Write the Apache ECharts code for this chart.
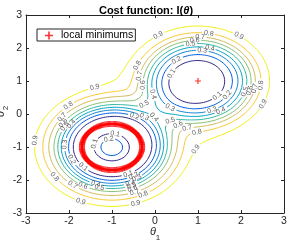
<!DOCTYPE html>
<html><head><meta charset="utf-8">
<script src="https://cdn.jsdelivr.net/npm/echarts@6/dist/echarts.min.js"></script>
<style>html,body{margin:0;padding:0;background:#fff}#c{width:292px;height:242px}</style>
</head><body><div id="c"></div>
<script>
// ---------------- data ----------------
const levels = [0.1, 0.2, 0.3, 0.4, 0.5, 0.6, 0.7, 0.8, 0.9];
const tickValues = [-3, -2, -1, 0, 1, 2, 3];
// radial profile of the well around the global minimum (distance -> cost)
const wellACenter = [1, 1];
const wellARadius = [0, 0.62, 0.80, 0.93, 1.035, 1.135, 1.235, 1.335, 1.465, 1.665, 2.0, 2.5, 3.2];
const wellAValue  = [0, 0.1, 0.2, 0.3, 0.4, 0.5, 0.6, 0.7, 0.8, 0.9, 0.96, 0.99, 1];
// radial profile of the ring-shaped well around (-1,-1)
const wellBCenter = [-1, -1];
const wellBRadius = [0, 0.26, 0.42, 0.70, 0.90, 1.01, 1.10, 1.18, 1.26, 1.35, 1.47, 1.61, 1.80, 2.15, 2.7, 3.4];
const wellBValue  = [0.3, 0.2, 0.1, 0, 0.1, 0.2, 0.3, 0.4, 0.5, 0.6, 0.7, 0.8, 0.9, 0.96, 0.99, 1];
// local minimums
const ringCenter = [-1, -1];
const ringRadius = 0.7;
const ringCount = 160;
const globalMinimum = [1, 1];
// contour label positions [level, x, y]
const contourLabels = [
  [0.9, 0.04, 2.48], [0.8, 1.26, 2.48], [0.9, 1.98, 2.45], [0.7, 1.05, 2.36], [0.6, 0.93, 2.22],
  [0.5, 0.83, 2.11], [0.4, 1.28, 1.96], [0.3, 1.09, 1.89], [0.2, 0.52, 1.61], [0.1, 0.43, 1.18],
  [0.8, -0.43, 1.48], [0.7, -0.43, 1.18], [0.6, -0.39, 0.88], [0.4, 0.02, 0.63], [0.5, -0.26, 0.32],
  [0.3, 0.40, 0.32], [0.1, 1.43, 0.58], [0.2, 1.63, 0.63], [0.3, 1.30, 0.22], [0.4, 1.51, 0.17],
  [0.5, 2.12, 0.66], [0.6, 2.27, 0.68], [0.7, 2.38, 0.75], [0.8, 2.50, 0.88], [0.9, 2.56, 0.27],
  [0.9, -1.40, 0.81], [0.8, -2.02, 0.27], [0.7, -2.17, -0.08], [0.6, -2.17, -0.23], [0.5, -2.13, -0.33],
  [0.4, -1.94, -0.30], [0.1, -0.91, -0.38], [0.2, -0.54, -0.30], [0.3, -0.33, -0.26], [0.4, -0.04, -0.13],
  [0.5, 0.35, -0.16], [0.6, 0.55, -0.35], [0.7, 0.75, -0.46], [0.8, 0.97, -0.58], [0.9, 0.93, -1.04],
  [0.3, -2.07, -0.94], [0.2, -1.94, -1.39], [0.9, -2.81, -0.79], [0.1, -1.74, -1.70], [0.8, -2.33, -1.90],
  [0.7, -1.91, -2.15], [0.6, -1.70, -2.25], [0.4, -1.36, -2.08], [0.5, -1.30, -2.25], [0.9, -1.74, -2.66],
  [0.1, -0.62, -1.80], [0.2, -0.50, -1.87], [0.3, -0.43, -1.95], [0.4, -0.58, -2.13], [0.5, -0.54, -2.20],
  [0.6, -0.52, -2.28], [0.7, -0.47, -2.35], [0.8, -0.27, -2.45], [0.9, -0.43, -2.76],
  [0.1, -1.32, -0.94], [0.2, -1.06, -0.86]
];

// ---------------- styles ----------------
const levelColors = ['#352a87', '#0562e0', '#1484d4', '#06a5c7', '#33b8a1', '#8bbf75', '#d2bb58', '#fdc931', '#f0f01a'];
const FONT = '"Liberation Sans", Arial, Helvetica, sans-serif';
const GRID = {left: 26, right: 8, top: 15, bottom: 29};
const W = 292, H = 242;
const SX = (W - GRID.left - GRID.right) / 6, SY = (H - GRID.top - GRID.bottom) / 6;

// ---------------- field from the read profiles ----------------
function makeProfile(xs, ys) {
  const n = xs.length, h = [], d = [], m = new Array(n).fill(0);
  for (let k = 0; k < n - 1; k++) { h[k] = xs[k + 1] - xs[k]; d[k] = (ys[k + 1] - ys[k]) / h[k]; }
  for (let k = 1; k < n - 1; k++) {
    if (d[k - 1] * d[k] <= 0) m[k] = 0;
    else { const w1 = 2 * h[k] + h[k - 1], w2 = h[k] + 2 * h[k - 1]; m[k] = (w1 + w2) / (w1 / d[k - 1] + w2 / d[k]); }
  }
  return function (r) {
    if (r >= xs[n - 1]) return ys[n - 1];
    let k = 0; while (k < n - 2 && r > xs[k + 1]) k++;
    const t = (r - xs[k]) / h[k], t2 = t * t, t3 = t2 * t;
    return (2 * t3 - 3 * t2 + 1) * ys[k] + (t3 - 2 * t2 + t) * h[k] * m[k] + (-2 * t3 + 3 * t2) * ys[k + 1] + (t3 - t2) * h[k] * m[k + 1];
  };
}
const gA = makeProfile(wellARadius, wellAValue);
const gB = makeProfile(wellBRadius, wellBValue);
function cost(x, y) {
  const rA = Math.hypot(x - wellACenter[0], y - wellACenter[1]);
  const rB = Math.hypot(x - wellBCenter[0], y - wellBCenter[1]);
  return gA(rA) + gB(rB) - 1;
}
const N = 241, X0 = -3, STEP = 6 / (N - 1);
const F = new Float64Array(N * N);
for (let j = 0; j < N; j++) for (let i = 0; i < N; i++) F[j * N + i] = cost(X0 + i * STEP, X0 + j * STEP);

// ---------------- marching squares ----------------
function contour(L) {
  const segs = [];
  const hk = (i, j) => j * N + i, vk = (i, j) => N * N + j * N + i;
  const px = (i, j, i2, j2) => {
    const a = F[j * N + i], b = F[j2 * N + i2], t = (L - a) / (b - a);
    return [X0 + (i + (i2 - i) * t) * STEP, X0 + (j + (j2 - j) * t) * STEP];
  };
  for (let j = 0; j < N - 1; j++) for (let i = 0; i < N - 1; i++) {
    const v00 = F[j * N + i] >= L, v10 = F[j * N + i + 1] >= L, v11 = F[(j + 1) * N + i + 1] >= L, v01 = F[(j + 1) * N + i] >= L;
    if (v00 === v10 && v10 === v11 && v11 === v01) continue;
    const E = {};
    if (v00 !== v10) E.b = {k: hk(i, j), p: px(i, j, i + 1, j)};
    if (v10 !== v11) E.r = {k: vk(i + 1, j), p: px(i + 1, j, i + 1, j + 1)};
    if (v01 !== v11) E.t = {k: hk(i, j + 1), p: px(i, j + 1, i + 1, j + 1)};
    if (v00 !== v01) E.l = {k: vk(i, j), p: px(i, j, i, j + 1)};
    const keys = Object.keys(E);
    if (keys.length === 2) segs.push([E[keys[0]], E[keys[1]]]);
    else if (keys.length === 4) {
      const c = (F[j * N + i] + F[j * N + i + 1] + F[(j + 1) * N + i + 1] + F[(j + 1) * N + i]) / 4 >= L;
      if (v00 !== c) segs.push([E.l, E.b]);
      if (v10 !== c) segs.push([E.b, E.r]);
      if (v11 !== c) segs.push([E.r, E.t]);
      if (v01 !== c) segs.push([E.t, E.l]);
    }
  }
  const map = new Map();
  segs.forEach((s, idx) => s.forEach(e => { if (!map.has(e.k)) map.set(e.k, []); map.get(e.k).push(idx); }));
  const used = new Uint8Array(segs.length), lines = [];
  const walk = (k, out) => {
    while (true) {
      const c = (map.get(k) || []).find(q => !used[q]);
      if (c === undefined) return k;
      used[c] = 1;
      const s = segs[c];
      if (s[0].k === k) { out.push(s[1].p); k = s[1].k; } else { out.push(s[0].p); k = s[0].k; }
    }
  };
  for (let q = 0; q < segs.length; q++) {
    if (used[q]) continue;
    used[q] = 1;
    const fwd = [segs[q][0].p, segs[q][1].p];
    const endK = walk(segs[q][1].k, fwd);
    const closed = endK === segs[q][0].k;
    let pts = fwd;
    if (!closed) { const back = []; walk(segs[q][0].k, back); pts = back.reverse().concat(fwd); }
    if (closed) pts.pop();
    lines.push({pts, closed, keep: new Array(pts.length).fill(true)});
  }
  return lines;
}

const contourSets = levels.map(L => contour(L));

// ---------------- labels: snap to contour, rotate along it, cut a gap ----------------
const labelItems = [];
const pdist = (a, b) => Math.hypot((a[0] - b[0]) * SX, (a[1] - b[1]) * SY);
contourLabels.forEach(([lv, x, y]) => {
  const li = levels.findIndex(v => Math.abs(v - lv) < 1e-9);
  let best = null;
  contourSets[li].forEach(line => line.pts.forEach((p, idx) => {
    const d = pdist(p, [x, y]);
    if (!best || d < best.d) best = {d, line, idx};
  }));
  if (!best) return;
  const {line, idx} = best, n = line.pts.length;
  const at = k => line.closed ? line.pts[((k % n) + n) % n] : line.pts[Math.max(0, Math.min(n - 1, k))];
  const c = line.pts[idx];
  const p1 = at(idx - 3), p2 = at(idx + 3);
  let ang = Math.atan2((p2[1] - p1[1]) * SY, (p2[0] - p1[0]) * SX) * 180 / Math.PI;
  if (ang > 90) ang -= 180; if (ang <= -90) ang += 180;
  const gap = 6;
  for (const dir of [1, -1]) {
    for (let s = 0; s < n; s++) {
      const k = idx + dir * s;
      if (!line.closed && (k < 0 || k >= n)) break;
      const kk = ((k % n) + n) % n;
      if (pdist(line.pts[kk], c) < gap) line.keep[kk] = false; else break;
    }
  }
  labelItems.push({value: [c[0], c[1]], txt: String(lv), label: {rotate: ang}});
});

const contourSeries = [];
contourSets.forEach((lines, li) => {
  lines.forEach(line => {
    const {pts, keep, closed} = line, n = pts.length;
    const runs = [];
    if (closed) {
      const s0 = keep.findIndex(v => !v);
      if (s0 < 0) { runs.push(pts.concat([pts[0]])); }
      else {
        let cur = null;
        for (let s = 1; s <= n; s++) {
          const k = (s0 + s) % n;
          if (keep[k]) { if (!cur) cur = []; cur.push(pts[k]); }
          else if (cur) { runs.push(cur); cur = null; }
        }
        if (cur) runs.push(cur);
      }
    } else {
      let cur = null;
      for (let k = 0; k < n; k++) {
        if (keep[k]) { if (!cur) cur = []; cur.push(pts[k]); }
        else if (cur) { runs.push(cur); cur = null; }
      }
      if (cur) runs.push(cur);
    }
    runs.filter(r => r.length > 1).forEach(r => contourSeries.push({
      type: 'line', data: r, showSymbol: false, symbol: 'none', silent: true, z: 2,
      lineStyle: {color: levelColors[li], width: 1}, animation: false, clip: true
    }));
  });
});

// ---------------- minimum markers ----------------
const minimaPoints = [];
for (let k = 0; k < ringCount; k++) {
  const a = 2 * Math.PI * k / ringCount;
  minimaPoints.push([ringCenter[0] + ringRadius * Math.cos(a), ringCenter[1] + ringRadius * Math.sin(a)]);
}
minimaPoints.push(globalMinimum);
const plusPath = 'path://M4,0H6V4H10V6H6V10H4V6H0V4H4Z';

const axisCommon = {
  type: 'value', min: tickValues[0], max: tickValues[tickValues.length - 1], interval: 1,
  axisLine: {show: true, onZero: false, lineStyle: {color: '#262626', width: 1}},
  axisTick: {show: true, inside: true, length: 3, lineStyle: {color: '#262626'}},
  splitLine: {show: false}
};

const chart = echarts.init(document.getElementById('c'), null, {renderer: 'canvas'});
chart.setOption({
  animation: false,
  backgroundColor: '#fff',
  title: {
    text: '{b|Cost function: I(}{i|θ}{b|)}', left: 'center', top: 0,
    textStyle: {rich: {
      b: {fontFamily: FONT, fontWeight: 'bold', fontSize: 11, color: '#000'},
      i: {fontFamily: FONT, fontStyle: 'italic', fontWeight: 'bold', fontSize: 11, color: '#000'}
    }}
  },
  grid: GRID,
  legend: {
    data: ['local minimums'], left: 37, top: 29, orient: 'vertical',
    backgroundColor: '#fff', borderColor: '#262626', borderWidth: 1, padding: [1, 2, 0, 8],
    itemWidth: 8, itemHeight: 8, icon: plusPath,
    textStyle: {fontFamily: FONT, fontSize: 10.5, color: '#000', padding: [0, 0, 0, 3]}
  },
  xAxis: [
    Object.assign({}, axisCommon, {position: 'bottom', axisLabel: {fontFamily: FONT, fontSize: 10.5, color: '#262626', margin: 3}}),
    Object.assign({}, axisCommon, {position: 'top', axisLabel: {show: false}})
  ],
  yAxis: [
    Object.assign({}, axisCommon, {position: 'left', axisLabel: {fontFamily: FONT, fontSize: 10.5, color: '#262626', margin: 4}}),
    Object.assign({}, axisCommon, {position: 'right', axisLabel: {show: false}})
  ],
  graphic: [
    {type: 'text', x: 153, y: 232, style: {text: 'θ', font: 'italic 11px ' + FONT, fill: '#262626', align: 'center', verticalAlign: 'middle'}},
    {type: 'text', x: 158, y: 237.5, style: {text: '1', font: '8px ' + FONT, fill: '#262626', align: 'center', verticalAlign: 'middle'}},
    {type: 'text', x: 1, y: 114, rotation: Math.PI / 2, style: {text: 'θ', font: 'italic 11px ' + FONT, fill: '#262626', align: 'center', verticalAlign: 'middle'}},
    {type: 'text', x: 6, y: 108, rotation: Math.PI / 2, style: {text: '2', font: '8px ' + FONT, fill: '#262626', align: 'center', verticalAlign: 'middle'}}
  ],
  series: contourSeries.concat([
    {
      type: 'scatter', data: labelItems, symbolSize: 1, silent: true, z: 5,
      itemStyle: {color: 'rgba(0,0,0,0)'},
      label: {show: true, position: 'inside', formatter: p => p.data.txt, fontFamily: FONT, fontSize: 7, color: '#333'}
    },
    {
      type: 'scatter', name: 'local minimums', data: minimaPoints, symbol: plusPath, symbolSize: 6, z: 6,
      itemStyle: {color: '#ff0000'}, silent: true
    }
  ])
});
</script>
</body></html>
